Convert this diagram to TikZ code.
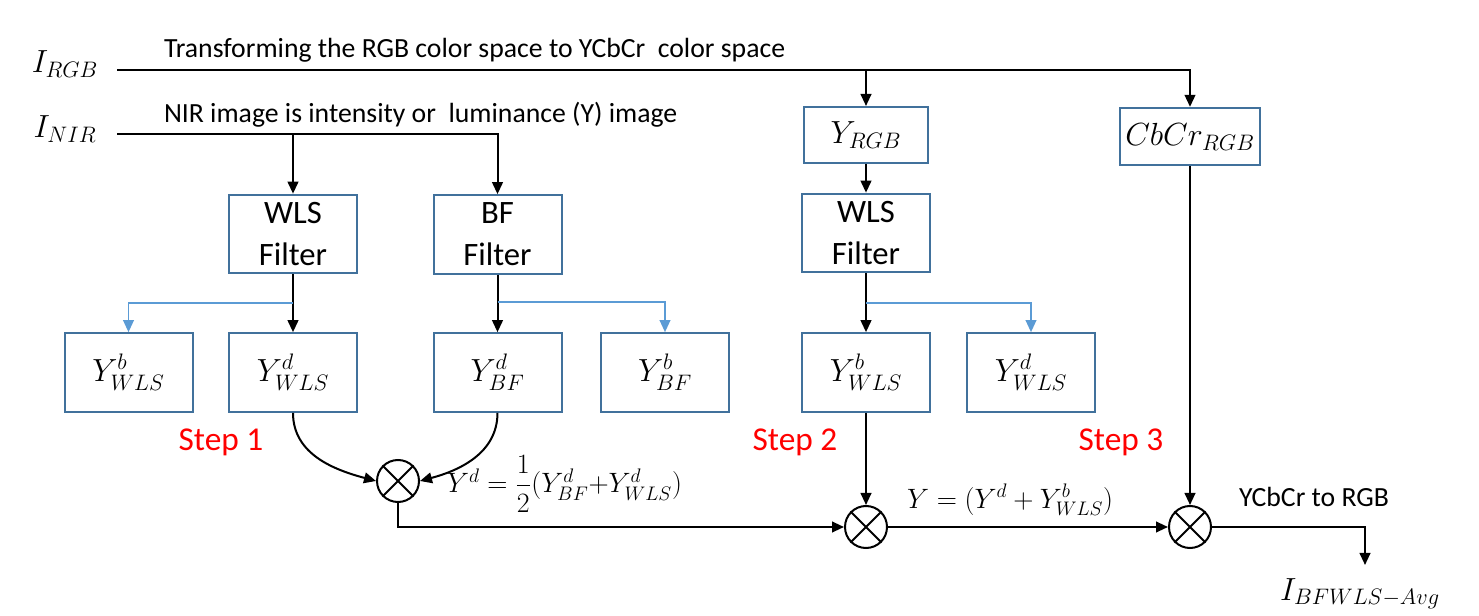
\RequirePackage{fix-cm}
\documentclass[tikz,border=0pt]{standalone}
\usepackage{amsmath}
\usepackage{fontspec}
\setmainfont{Carlito}
\usetikzlibrary{arrows.meta}

\definecolor{boxblue}{RGB}{65,113,156}
\definecolor{linkblue}{RGB}{91,155,213}

\tikzset{every picture/.style={line width=1.5pt}}
\tikzset{
  blk/.style={draw=boxblue, line width=1.5pt, inner sep=0pt, minimum width=96pt, minimum height=59pt, align=center, font=\fontsize{24.5}{31.5}\selectfont},
  mathblk/.style={blk, font=\fontsize{24}{28}\selectfont},
  arr/.style={-{Triangle[length=9pt,width=8pt]}},
  bluearr/.style={arr, color=linkblue, line width=1.2pt},
  mult/.style={circle, draw, minimum size=31.5pt, inner sep=0pt},
  note/.style={inner sep=0.75pt, font=\fontsize{20.8}{24}\selectfont},
  steplbl/.style={inner sep=0.75pt, text=red, font=\fontsize{25}{30}\selectfont},
  eqn/.style={inner sep=0.75pt, font=\fontsize{21}{25}\selectfont},
  sig/.style={inner sep=0.75pt, font=\fontsize{24}{28}\selectfont}
}

\begin{document}
\begin{tikzpicture}[x=0.75pt,y=0.75pt,yscale=-1,xscale=1]
	\useasboundingbox (0,0) rectangle (1479,616);
	
	% Inputs
	\draw (65,64) node [sig] (irgb) {$I_{RGB}$};
	\draw (65,129) node [sig] (inir) {$I_{NIR}$};
	\coordinate (rgbin) at (117,70);
	\coordinate (nirin) at (117,134);
	
	% Filter boxes
	\draw (293,234) node [blk] (wlsA) {WLS\\Filter};
	\draw (497.5,234.5) node [blk] (bfA) {BF\\Filter};
	\draw (866,135) node [mathblk, minimum width=93pt, minimum height=42pt] (yrgb) {$Y_{RGB}$};
	\draw (1190,136.5) node [mathblk, minimum width=105pt, minimum height=43pt] (cbcr) {$CbCr_{RGB}$};
	\draw (866,233) node [blk] (wlsB) {WLS\\Filter};
	
	% Layer boxes
	\draw (128.5,372.5) node [mathblk] (ybwA) {$Y^{b}_{WLS}$};
	\draw (293,372.5) node [mathblk] (ydwA) {$Y^{d}_{WLS}$};
	\draw (497.5,372.5) node [mathblk] (ydbf) {$Y^{d}_{BF}$};
	\draw (665,372.5) node [mathblk] (ybbf) {$Y^{b}_{BF}$};
	\draw (866,372.5) node [mathblk] (ybwB) {$Y^{b}_{WLS}$};
	\draw (1031,372.5) node [mathblk] (ydwB) {$Y^{d}_{WLS}$};
	
	% Multipliers
	\draw (398,481) node [mult] (m1) {};
	\draw (866,527) node [mult] (m2) {};
	\draw (1190,527) node [mult] (m3) {};
	\foreach \m in {m1,m2,m3}
		\draw (\m.45) -- (\m.225) (\m.135) -- (\m.315);
	
	% Input lines
	\draw [arr] (rgbin) -| (cbcr.north);
	\draw [arr] (yrgb.north |- rgbin) -- (yrgb.north);
	\draw [arr] (nirin) -| (bfA.north);
	\draw [arr] (wlsA.north |- nirin) -- (wlsA.north);
	\draw [arr] (yrgb.south) -- (wlsB.north);
	
	% Filter outputs
	\draw [arr] (wlsA.south) -- (ydwA.north);
	\draw [arr] (bfA.south) -- (ydbf.north);
	\draw [arr] (wlsB.south) -- (ybwB.north);
	\coordinate (splitA) at (293,303);
	\coordinate (splitB) at (497.5,302);
	\coordinate (splitC) at (866,303);
	\draw [bluearr] (splitA) -| (ybwA.north);
	\draw [bluearr] (splitB) -| (ybbf.north);
	\draw [bluearr] (splitC) -| (ydwB.north);
	
	% Fusion
	\draw [arr] (ydwA.south) to [out=90,in=195] (m1.west);
	\draw [arr] (ydbf.south) to [out=90,in=-15] (m1.east);
	\draw [arr] (m1.south) |- (m2.west);
	\draw [arr] (ybwB.south) -- (m2.north);
	\draw [arr] (m2.east) -- (m3.west);
	\draw [arr] (cbcr.south) -- (m3.north);
	\coordinate (outend) at (1365,565);
	\draw [arr] (m3.east) -| (outend);
	
	% Text Node
	\draw (162,58) node [note, anchor=base west] (rgbnote) {Transforming the RGB color space to YCbCr\ \ color space};
	\draw (162,123) node [note, anchor=base west] (nirnote) {NIR image is intensity or\ \ luminance (Y) image};
	\draw (221,442) node [steplbl] (step1) {Step 1};
	\draw (795,442) node [steplbl] (step2) {Step 2};
	\draw (1121,442) node [steplbl] (step3) {Step 3};
	\draw (445,484) node [eqn, anchor=west] (eqyd) {$Y^{d} = \dfrac{1}{2}(Y^{d}_{BF}{+}Y^{d}_{WLS})$};
	\draw (905,500) node [eqn, anchor=west] (eqy) {$Y = (Y^{d} + Y^{b}_{WLS})$};
	\draw (1314,497) node [note] (torgb) {YCbCr to RGB};
	\draw (1360,600) node [sig, anchor=base] (iout) {$I_{BFWLS-Avg}$};
\end{tikzpicture}
\end{document}
